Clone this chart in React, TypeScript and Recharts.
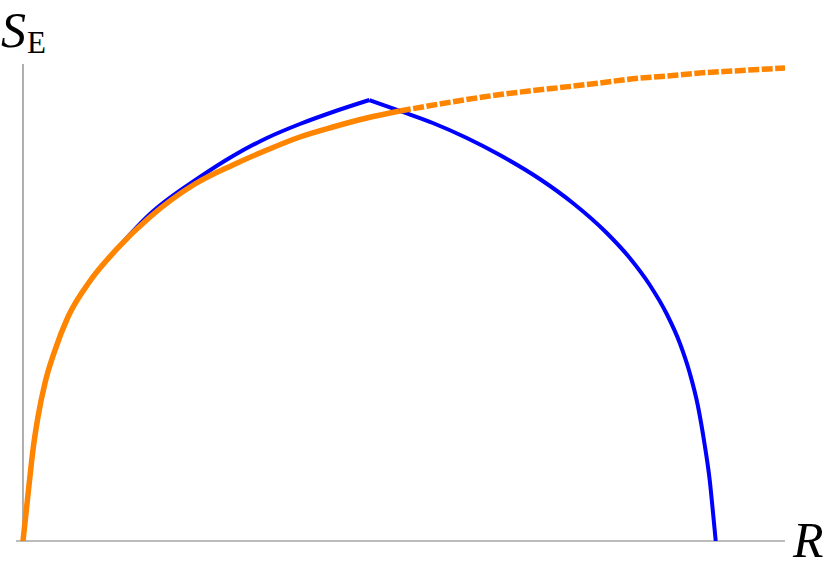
import { LineChart, Line, XAxis, YAxis, ReferenceLine } from "recharts";

// R values and entanglement entropy S_E (arbitrary units)
const blueRiseR = [0, 0.0087, 0.0144, 0.0216, 0.0317, 0.0462, 0.0649, 0.0967, 0.1356, 0.1833, 0.2554, 0.303, 0.3521, 0.3997, 0.4473, 0.5];
const blueRiseS = [0, 0.1174, 0.1908, 0.26, 0.3312, 0.4004, 0.4696, 0.5451, 0.6122, 0.6855, 0.7631, 0.8071, 0.8449, 0.8742, 0.8994, 0.9245];

const blueFallR = [0.5, 0.544, 0.5916, 0.6407, 0.6883, 0.746, 0.7937, 0.8427, 0.8759, 0.9048, 0.9293, 0.9481, 0.9625, 0.974, 0.9841, 0.9913, 0.9964, 1.0];
const blueFallS = [0.9245, 0.9015, 0.8763, 0.8449, 0.8092, 0.7589, 0.7086, 0.6457, 0.5933, 0.5367, 0.4759, 0.4151, 0.3522, 0.2851, 0.2013, 0.1279, 0.0545, 0];

const orangeR = [0, 0.0087, 0.0144, 0.0216, 0.0317, 0.0462, 0.0649, 0.0967, 0.1356, 0.1833, 0.2482, 0.303, 0.3521, 0.3997, 0.4473, 0.4964, 0.544];
const orangeS = [0, 0.1174, 0.1908, 0.26, 0.3312, 0.4004, 0.4696, 0.5451, 0.6122, 0.6792, 0.7484, 0.7883, 0.8197, 0.847, 0.8679, 0.8868, 0.9015];

// beyond the crossing the orange branch is drawn dashed
const orangeDashR = [0.544, 0.6638, 0.8326, 0.8802, 0.9293, 0.9769, 1.0245, 1.1];
const orangeDashS = [0.9015, 0.9308, 0.9602, 0.969, 0.9748, 0.9811, 0.9853, 0.9916];

const zip = (rs: number[], ss: number[]) => rs.map((R, i) => ({ R, S: ss[i] }));

const blueRise = zip(blueRiseR, blueRiseS);
const blueFall = zip(blueFallR, blueFallS);
const orangeSolid = zip(orangeR, orangeS);
const orangeDashed = zip(orangeDashR, orangeDashS);

const BLUE = "#0000ff";
const ORANGE = "#ff8500";

const serif = '"Liberation Serif", "Times New Roman", Times, "DejaVu Serif", serif';

const labelBase: React.CSSProperties = {
  position: "absolute",
  fontFamily: serif,
  fontStyle: "italic",
  fontSize: 50,
  lineHeight: "50px",
  color: "#000",
  whiteSpace: "nowrap",
};

export default function App() {
  return (
    <div style={{ position: "absolute", left: 0, top: 0, width: 830, height: 569, background: "#fff" }}>
      <LineChart width={830} height={569} margin={{ top: 64, right: 45, bottom: 28, left: 16 }}>
        <XAxis type="number" dataKey="R" domain={[-0.0101, 1.1]} allowDataOverflow hide height={0} />
        <YAxis type="number" dataKey="S" domain={[0, 1]} allowDataOverflow hide width={0} />
        <ReferenceLine
          segment={[
            { x: 0, y: 0 },
            { x: 0, y: 1 },
          ]}
          stroke="#7a7a7a"
          strokeWidth={1.2}
        />
        <ReferenceLine
          segment={[
            { x: -0.0101, y: 0 },
            { x: 1.1, y: 0 },
          ]}
          stroke="#7a7a7a"
          strokeWidth={1.2}
        />
        <Line data={blueRise} dataKey="S" type="monotone" stroke={BLUE} strokeWidth={4} dot={false} activeDot={false} isAnimationActive={false} />
        <Line data={blueFall} dataKey="S" type="monotone" stroke={BLUE} strokeWidth={4} dot={false} activeDot={false} isAnimationActive={false} />
        <Line data={orangeSolid} dataKey="S" type="monotone" stroke={ORANGE} strokeWidth={5.5} dot={false} activeDot={false} isAnimationActive={false} />
        <Line
          data={orangeDashed}
          dataKey="S"
          type="monotone"
          stroke={ORANGE}
          strokeWidth={5.5}
          strokeDasharray="11 2.5"
          dot={false}
          activeDot={false}
          isAnimationActive={false}
        />
      </LineChart>
      <div style={{ ...labelBase, left: 1, top: 5 }}>
        S<span style={{ fontStyle: "normal", fontSize: 31, position: "relative", top: 6, marginLeft: 1 }}>E</span>
      </div>
      <div style={{ ...labelBase, left: 793, top: 515 }}>R</div>
    </div>
  );
}
